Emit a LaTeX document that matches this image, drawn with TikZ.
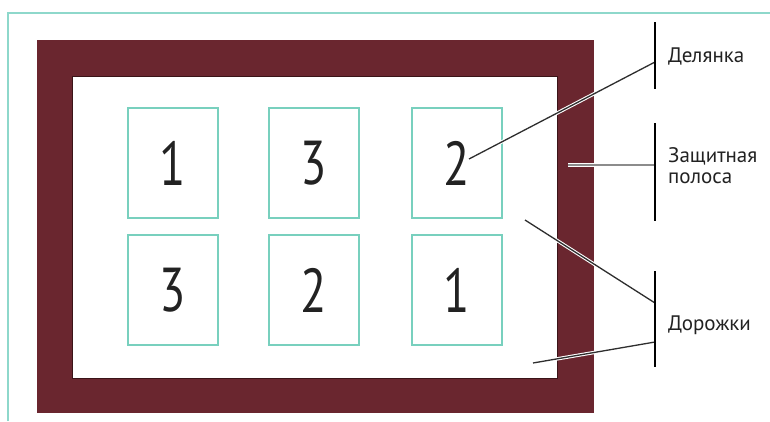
\documentclass[tikz,border=0pt]{standalone}
\usepackage{fontspec}
\setmainfont{PT Sans}
\definecolor{maroon}{HTML}{6A262F}
\definecolor{maroonedge}{HTML}{3A1418}
\definecolor{plotteal}{HTML}{78D0BE}
\definecolor{frameteal}{HTML}{8ED8CB}
\definecolor{leaddark}{HTML}{2E2E2E}
\definecolor{leadlight}{HTML}{8C8C8C}
\definecolor{textdark}{HTML}{222222}
\newcommand{\plotnum}[1]{\scalebox{0.78}[1]{#1}}
\begin{document}
\begin{tikzpicture}[x=1pt,y=-1pt,
  plotbox/.style={draw=plotteal,line width=1.6pt,minimum width=90pt,minimum height=110pt,inner sep=0pt,text=textdark,font=\fontsize{62}{62}\selectfont},
  barline/.style={line width=2.6pt,black},
  leader/.style={preaction={draw=white,line width=3.4pt},draw=leaddark,line width=1.3pt},
  leaderlight/.style={preaction={draw=white,line width=3.4pt},draw=leadlight,line width=1.6pt},
  lbl/.style={anchor=west,font=\fontsize{21}{21}\selectfont,align=left,inner sep=0pt,text=textdark}]
\fill[white] (0,0) rectangle (770,421);
\useasboundingbox (0,0) rectangle (770,421);
% outer teal frame
\draw[frameteal,line width=1.6pt] (8,421) -- (8,13) -- (770,13);
% protective strip and inner paths
\fill[maroon] (37,40) rectangle (594,413);
\filldraw[fill=white,draw=maroonedge,line width=1pt] (72,76) rectangle (557,378);
% plots
\node[plotbox] (p11) at (173,163) {\plotnum{1}};
\node[plotbox] (p12) at (314,163) {\plotnum{3}};
\node[plotbox] (p13) at (457,163) {\plotnum{2}};
\node[plotbox] (p21) at (173,290) {\plotnum{3}};
\node[plotbox] (p22) at (314,290) {\plotnum{2}};
\node[plotbox] (p23) at (457,290) {\plotnum{1}};
% bars
\coordinate (b1t) at (655,22); \coordinate (b1b) at (655,89);
\coordinate (b2t) at (655,123); \coordinate (b2b) at (655,221);
\coordinate (b3t) at (655,271); \coordinate (b3b) at (655,367);
% leader end points
\coordinate (l1) at (655,62);
\coordinate (e1) at (469,159);
\coordinate (l2) at (655,165);
\coordinate (e2) at (568,165);
\coordinate (l3) at (655,303);
\coordinate (e3) at (525,220);
\coordinate (l4) at (655,342);
\coordinate (e4) at (533,363);
\path[leader] (e1) -- (l1);
\path[leaderlight] (e2) -- (l2);
\path[leader] (e3) -- (l3);
\path[leader] (e4) -- (l4);
\draw[barline] (b1t) -- (b1b);
\draw[barline] (b2t) -- (b2b);
\draw[barline] (b3t) -- (b3b);
% labels
\node[lbl] (t1) at (668,57) {Делянка};
\node[lbl] (t2) at (668,166) {Защитная\\полоса};
\node[lbl] (t3) at (668,325) {Дорожки};
\end{tikzpicture}
\end{document}
